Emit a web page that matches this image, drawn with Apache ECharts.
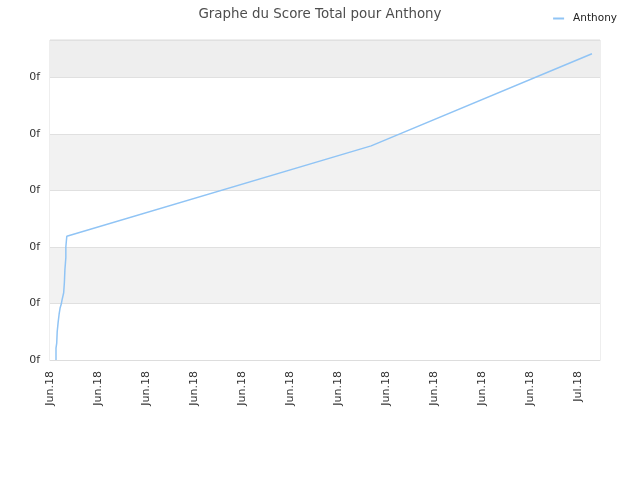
<!DOCTYPE html>
<html>
<head>
    <meta charset="utf-8">
    <title>Graphe du Score Total pour Anthony</title>
    <script src="https://cdn.jsdelivr.net/npm/echarts/dist/echarts.min.js"></script>
	<style>
	html, body { margin: 0; padding: 0; background: #fff; }
	#main { width: 640px; height: 480px; }
	</style>
</head>
<body>
    <div id="main"></div>
    <script type="text/javascript">
        // axis ticks (one label per tick step, in date order)
        var xTickLabels = ['Jun.18', 'Jun.18', 'Jun.18', 'Jun.18', 'Jun.18', 'Jun.18',
                           'Jun.18', 'Jun.18', 'Jun.18', 'Jun.18', 'Jun.18', 'Jul.18'];
        var yTickLabels = ['0f', '0f', '0f', '0f', '0f', '0f'];

        // series: position in tick steps and total score (in y tick steps)
        var anthonyX = [0.125, 0.125, 0.14, 0.15, 0.17, 0.19, 0.21, 0.235, 0.25, 0.285, 0.30, 0.31, 0.33, 0.33, 0.35, 6.69, 11.29];
        var anthonyY = [0, 0.21, 0.30, 0.50, 0.67, 0.81, 0.92, 0.99, 1.06, 1.19, 1.38, 1.59, 1.81, 2.0, 2.19, 3.79, 5.42];

        var xMax = 11.458;
        var yMax = 5.664;

        var myChart = echarts.init(document.getElementById('main'));
        var fontName = 'DejaVu Sans';

        var option = {
            backgroundColor: '#ffffff',
            animation: false,
            textStyle: { fontFamily: fontName },
            title: {
                text: 'Graphe du Score Total pour Anthony',
                left: 'center',
                top: 3,
                textStyle: {
                    fontFamily: fontName,
                    fontSize: 13.4,
                    fontWeight: 'normal',
                    color: '#4d4d4d'
                }
            },
            legend: {
                right: 18,
                top: 8,
                icon: 'rect',
                itemWidth: 11,
                itemHeight: 2,
                itemGap: 6,
                textStyle: { fontFamily: fontName, fontSize: 10.5, color: '#222222', padding: [0, 0, 0, 4] },
                data: ['Anthony']
            },
            grid: {
                left: 50,
                right: 40,
                top: 40,
                bottom: 120,
                show: true,
                borderColor: '#dddddd',
                borderWidth: 1
            },
            xAxis: {
                type: 'value',
                min: 0,
                max: xMax,
                interval: 1,
                axisLine: { show: true, lineStyle: { color: '#dddddd' } },
                axisTick: { show: false },
                splitLine: { show: false },
                axisLabel: {
                    rotate: 90,
                    margin: 11,
                    fontSize: 11,
                    color: '#333333',
                    fontFamily: fontName,
                    showMaxLabel: false,
                    formatter: function (v) {
                        var i = Math.round(v);
                        return xTickLabels[i] || '';
                    }
                }
            },
            yAxis: {
                type: 'value',
                min: 0,
                max: yMax,
                interval: 1,
                axisLine: { show: false },
                axisTick: { show: false },
                splitLine: { show: true, lineStyle: { color: '#e0e0e0' } },
                splitArea: {
                    show: true,
                    areaStyle: { color: ['#ffffff', '#f2f2f2', '#ffffff', '#f2f2f2', '#ffffff', '#eeeeee'] }
                },
                axisLabel: {
                    margin: 10,
                    fontSize: 11,
                    color: '#333333',
                    fontFamily: fontName,
                    showMaxLabel: false,
                    formatter: function (v) {
                        var i = Math.round(v);
                        return yTickLabels[i] || '';
                    }
                }
            },
            series: [
                {
                    name: 'Anthony',
                    type: 'line',
                    showSymbol: false,
                    symbol: 'none',
                    color: '#90c4f5',
                    lineStyle: { color: '#90c4f5', width: 1.5 },
                    data: anthonyX.map(function (x, i) { return [x, anthonyY[i]]; })
                }
            ]
        };

        myChart.setOption(option);
    </script>
</body>
</html>
